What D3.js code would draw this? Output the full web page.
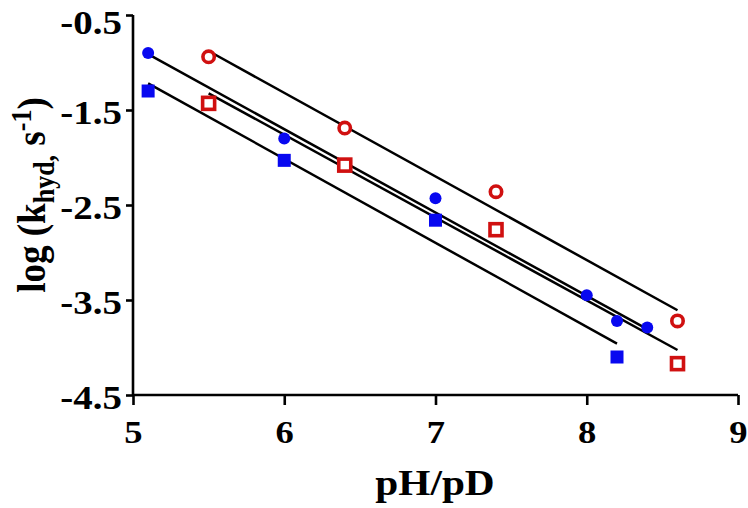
<!DOCTYPE html>
<html>
<head>
<meta charset="utf-8">
<script src="https://cdn.jsdelivr.net/npm/d3@7"></script>
<style>
  html, body { margin: 0; padding: 0; background: #fff; }
  svg { display: block; }
  text { font-family: "Liberation Serif", "Times New Roman", serif; font-weight: bold; fill: #000; }
</style>
</head>
<body>
<svg id="chart" width="748" height="508"></svg>
<script>
// ---- data ----
const blueCircleX = [5.1, 6.0, 7.0, 8.0, 8.2, 8.4];
const blueCircleY = [-0.90, -1.80, -2.43, -3.45, -3.72, -3.79];
const blueSquareX = [5.1, 6.0, 7.0, 8.2];
const blueSquareY = [-1.30, -2.03, -2.66, -4.10];
const redCircleX = [5.5, 6.4, 7.4, 8.6];
const redCircleY = [-0.94, -1.69, -2.36, -3.72];
const redSquareX = [5.5, 6.4, 7.4, 8.6];
const redSquareY = [-1.43, -2.08, -2.76, -4.17];
const xTicks = [5, 6, 7, 8, 9];
const yTicks = [-0.5, -1.5, -2.5, -3.5, -4.5];
const xDomain = [5, 9];
const yDomain = [-4.5, -0.5];

// ---- layout ----
const svg = d3.select("#chart");
const x = d3.scaleLinear().domain(xDomain).range([133, 738]);
const y = d3.scaleLinear().domain(yDomain).range([395, 15]);
const BLUE = "#0808f0", RED = "#d01010";
const SX = 1.18; // horizontal stretch of the reference's lettering

function fit(xs, ys) {
  const mx = d3.mean(xs), my = d3.mean(ys);
  let sxy = 0, sxx = 0;
  xs.forEach((v, i) => { sxy += (v - mx) * (ys[i] - my); sxx += (v - mx) * (v - mx); });
  const b = sxy / sxx, a = my - b * mx;
  const x0 = d3.min(xs), x1 = d3.max(xs);
  return [[x0, a + b * x0], [x1, a + b * x1]];
}

const line = d3.line().x(d => x(d[0])).y(d => y(d[1]));
const series = [
  {xs: blueCircleX, ys: blueCircleY},
  {xs: blueSquareX, ys: blueSquareY},
  {xs: redCircleX, ys: redCircleY},
  {xs: redSquareX, ys: redSquareY}
];
series.forEach(s => {
  svg.append("path").attr("d", line(fit(s.xs, s.ys)))
    .attr("fill", "none").attr("stroke", "#000").attr("stroke-width", 2.5);
});

// markers
svg.append("g").selectAll("circle").data(blueCircleX.map((v, i) => [v, blueCircleY[i]]))
  .join("circle").attr("cx", d => x(d[0])).attr("cy", d => y(d[1])).attr("r", 6).attr("fill", BLUE);
svg.append("g").selectAll("rect").data(blueSquareX.map((v, i) => [v, blueSquareY[i]]))
  .join("rect").attr("x", d => x(d[0]) - 6.5).attr("y", d => y(d[1]) - 6.5)
  .attr("width", 13).attr("height", 13).attr("fill", BLUE);
svg.append("g").selectAll("circle").data(redCircleX.map((v, i) => [v, redCircleY[i]]))
  .join("circle").attr("cx", d => x(d[0])).attr("cy", d => y(d[1])).attr("r", 5.7)
  .attr("fill", "#fff").attr("stroke", RED).attr("stroke-width", 3.6);
svg.append("g").selectAll("rect").data(redSquareX.map((v, i) => [v, redSquareY[i]]))
  .join("rect").attr("x", d => x(d[0]) - 6).attr("y", d => y(d[1]) - 6)
  .attr("width", 12).attr("height", 12)
  .attr("fill", "#fff").attr("stroke", RED).attr("stroke-width", 3.6);

// axes
const xAxis = d3.axisBottom(x).tickValues(xTicks).tickSize(10).tickPadding(6).tickFormat(d3.format("d"));
const yAxis = d3.axisLeft(y).tickValues(yTicks).tickSize(7).tickPadding(4).tickFormat(d3.format(".1f"));

const gx = svg.append("g").attr("transform", "translate(0,395)").call(xAxis);
const gy = svg.append("g").attr("transform", "translate(133,0)").call(yAxis);
[gx, gy].forEach(g => {
  g.select(".domain").attr("stroke", "#000").attr("stroke-width", 2.6);
  g.selectAll(".tick line").attr("stroke", "#000").attr("stroke-width", 2.6);
  g.selectAll(".tick text").attr("fill", "#000")
    .style("font-family", '"Liberation Serif", serif').style("font-weight", "bold");
});
gx.select(".domain").attr("d", "M133,0H738");
gy.select(".domain").attr("d", "M0,15V395");
gx.selectAll(".tick text").style("font-size", "31px").attr("dy", null).attr("y", 48)
  .attr("transform", `scale(${SX},1)`);
gy.selectAll(".tick text").style("font-size", "33px").attr("x", 0)
  .attr("dy", d => d === -0.5 ? "0.55em" : "0.42em")
  .attr("transform", `translate(-11,0) scale(${SX},1)`)
  .text(d => d3.format(".1f")(d).replace("−", "-"));

// axis titles
svg.append("text").attr("transform", `translate(435,495) scale(${SX},1)`).attr("text-anchor", "middle")
  .style("font-size", "35px").text("pH/pD");

const yt = svg.append("text").attr("transform", `translate(45,195) scale(1.1,1) rotate(-90)`)
  .attr("text-anchor", "middle").style("font-size", "37px");
yt.append("tspan").text("log (k");
yt.append("tspan").attr("dy", 8).style("font-size", "26px").text("hyd,");
yt.append("tspan").attr("dy", -8).text(" s");
yt.append("tspan").attr("dy", -13).style("font-size", "26px").text("-1");
yt.append("tspan").attr("dy", 13).text(")");
</script>
</body>
</html>
